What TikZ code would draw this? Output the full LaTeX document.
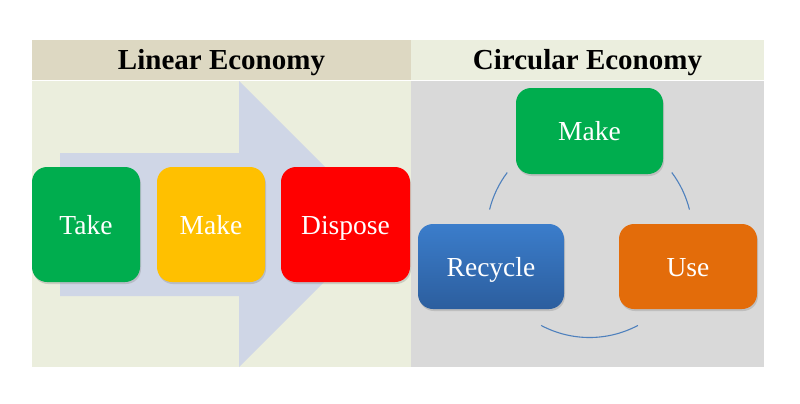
\documentclass[tikz,border=0pt]{standalone}
\usepackage{fontspec}
\setmainfont{Liberation Serif}
\usetikzlibrary{shadows}
\definecolor{hdrL}{HTML}{DDD8C2}
\definecolor{hdrR}{HTML}{EBEEDE}
\definecolor{bodyL}{HTML}{EBEEDD}
\definecolor{bodyR}{HTML}{D9D9D9}
\definecolor{arrowC}{HTML}{CFD6E6}
\definecolor{gr}{HTML}{00AD4E}
\definecolor{ye}{HTML}{FFC000}
\definecolor{re}{HTML}{FF0000}
\definecolor{orng}{HTML}{E36C0A}
\definecolor{blT}{HTML}{3B7DCB}
\definecolor{blB}{HTML}{2C5E9E}
\definecolor{arcC}{HTML}{4F81BD}
\tikzset{
  stepbox/.style={rounded corners=15pt, inner sep=0pt, text=white,
    font=\fontsize{27.5}{30}\selectfont, text height=19pt, text depth=0pt,
    drop shadow={opacity=0.3, shadow xshift=1pt, shadow yshift=-2pt}},
  hdr/.style={font=\fontsize{29}{31}\selectfont\bfseries, text=black,
    text height=19pt, text depth=0pt, inner sep=0pt},
  loop/.style={draw=arcC, line width=1.1pt}
}
\begin{document}
\begin{tikzpicture}[x=1pt,y=-1pt]
\useasboundingbox (0,0) rectangle (800,404);
\fill[white] (0,0) rectangle (800,404);
% panels
\fill[hdrL] (32,40) rectangle (411,80);
\fill[hdrR] (411,40) rectangle (764,80);
\fill[bodyL] (32,81) rectangle (411,367);
\fill[bodyR] (411,81) rectangle (764,367);
\node[hdr] (hl) at (221.5,60) {Linear Economy};
\node[hdr] (hr) at (587.5,60) {Circular Economy};
% big arrow
\fill[arrowC] (60,153) -- (239,153) -- (239,81) -- (382,224) -- (239,367) -- (239,296) -- (60,296) -- cycle;
% linear boxes
\node[stepbox, fill=gr, minimum width=108pt, minimum height=115pt] (take) at (86,224.5) {Take};
\node[stepbox, fill=ye, minimum width=108pt, minimum height=115pt] (make1) at (211,224.5) {Make};
\node[stepbox, fill=re, minimum width=129pt, minimum height=115pt] (dispose) at (345.5,224.5) {Dispose};
% circular boxes
\node[stepbox, fill=gr, minimum width=147pt, minimum height=86pt] (make2) at (589.5,131) {Make};
\node[stepbox, top color=blT, bottom color=blB, minimum width=146pt, minimum height=85pt] (recycle) at (491,266.5) {Recycle};
\node[stepbox, fill=orng, minimum width=138pt, minimum height=85pt] (use) at (688,266.5) {Use};
% cycle arcs
\coordinate (cen) at (589.5,234.5);
\draw[loop] (cen) ++(-143:103) arc[start angle=-143, end angle=-166, radius=103];
\draw[loop] (cen) ++(-37:103) arc[start angle=-37, end angle=-14, radius=103];
\draw[loop] (cen) ++(118:103) arc[start angle=118, end angle=62, radius=103];
\end{tikzpicture}
\end{document}
